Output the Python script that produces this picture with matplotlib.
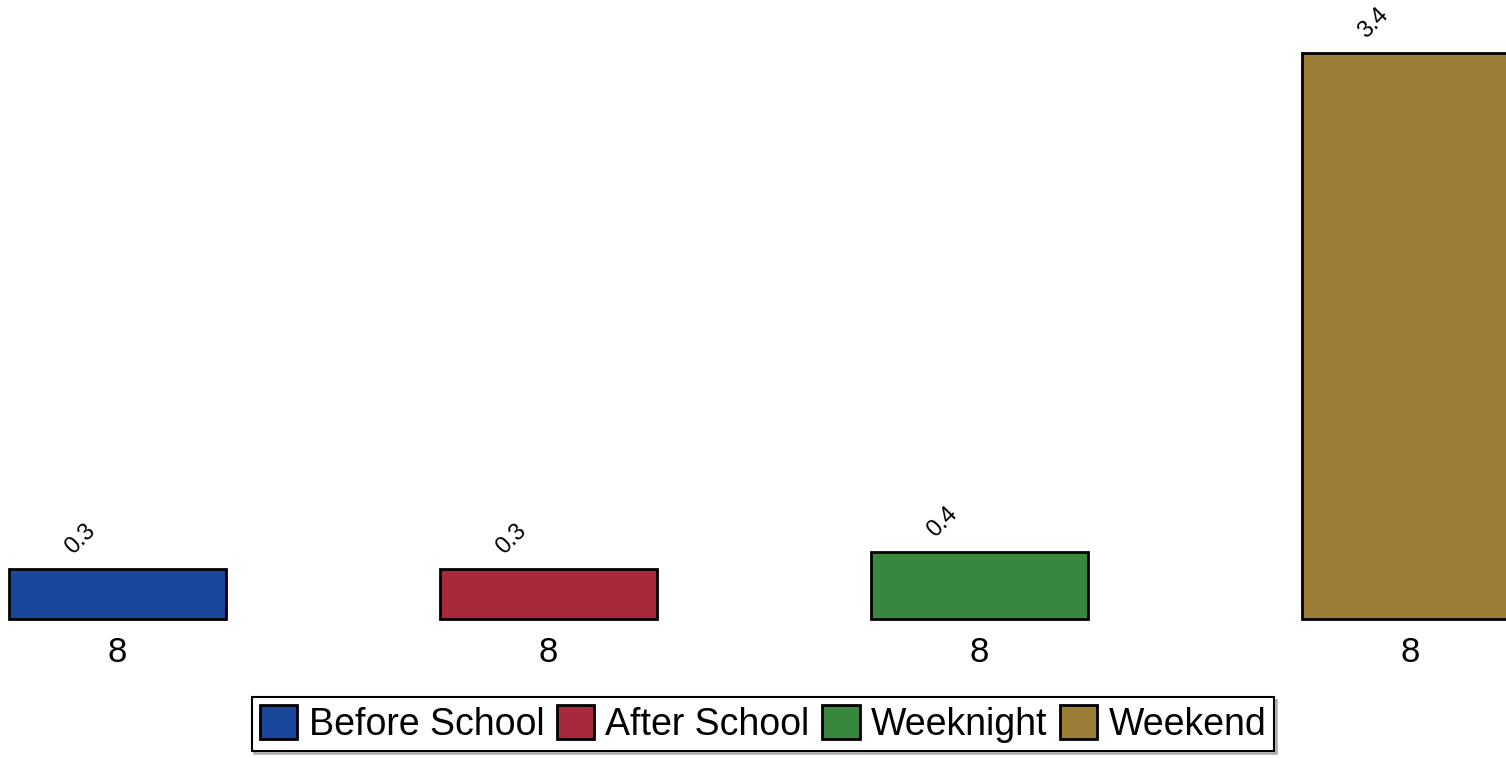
import matplotlib.pyplot as plt
from matplotlib.patches import Patch

# data
categories = ['Before School', 'After School', 'Weeknight', 'Weekend']
values = [0.3, 0.3, 0.4, 3.4]
tick_labels = ['8', '8', '8', '8']
colors = ['#1a479c', '#a8283c', '#38873f', '#9c7d35']

plt.rcParams['font.family'] = ['Liberation Sans', 'DejaVu Sans']

fig = plt.figure(figsize=(15.06, 7.58), dpi=100)
# axes: bottom at bar base (y=619 px), top at figure top
ax = fig.add_axes([0, (758 - 619) / 758, 1, 619 / 758])

x = list(range(len(categories)))
bars = ax.bar(x, values, width=0.503, color=colors, edgecolor='black', linewidth=2, clip_on=False)

ax.set_xlim(-0.2726, 3.2216)
ax.set_ylim(0, 619 / 166.5)

# value labels, rotated like Stata's blabel
for xi, v in zip(x, values):
    ax.annotate(f'{v:.1f}', xy=(xi, v), xytext=(-37, 30), textcoords='offset pixels',
                rotation=45, ha='center', va='center', fontsize=17)

ax.set_xticks(x)
ax.set_xticklabels(tick_labels, fontsize=25)
ax.tick_params(axis='x', length=0, pad=12)
ax.set_yticks([])
for s in ax.spines.values():
    s.set_visible(False)

handles = [Patch(facecolor=c, edgecolor='black', linewidth=2) for c in colors]
leg = fig.legend(handles, categories, loc='center', bbox_to_anchor=(763 / 1506, 1 - 724 / 758),
                 ncol=4, fontsize=27, frameon=True, fancybox=False, shadow={'color': '#888888'},
                 handlelength=1.0, handleheight=1.0, handletextpad=0.3, columnspacing=0.33,
                 borderpad=0.22, borderaxespad=0)
leg.get_frame().set_edgecolor('black')
leg.get_frame().set_linewidth(1.5)
leg.get_frame().set_alpha(1)

fig.savefig('out.png', dpi=100)
